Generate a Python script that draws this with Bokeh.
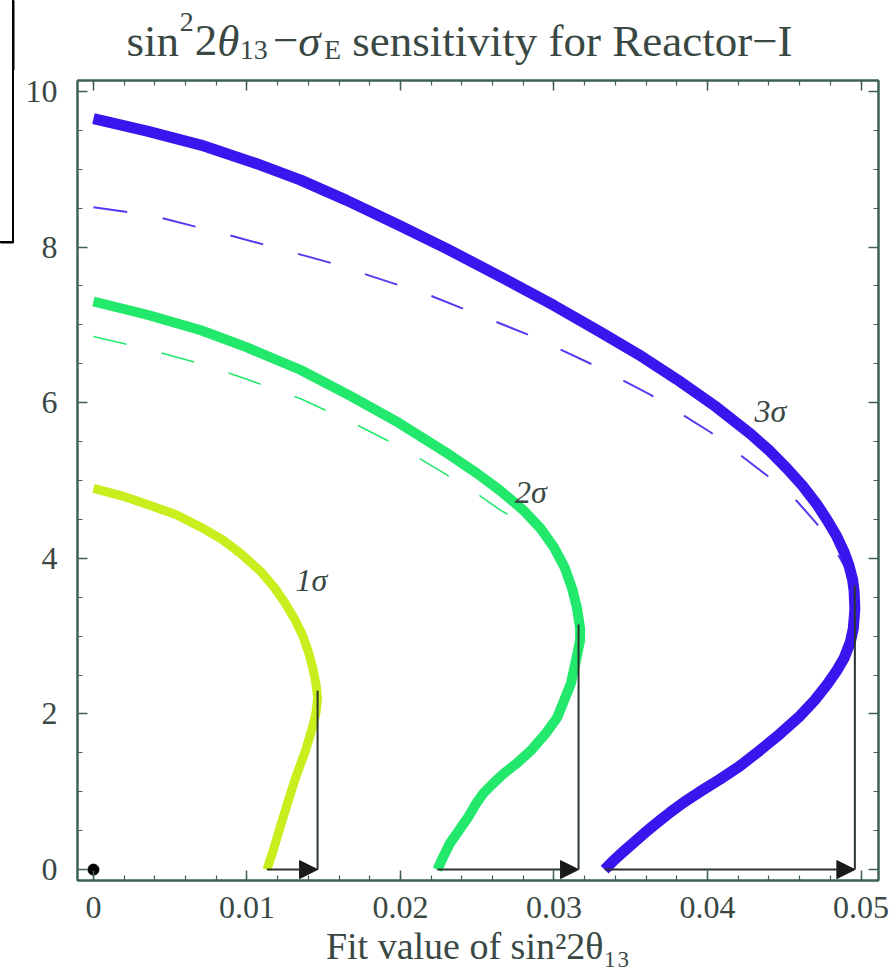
import numpy as np
from bokeh.plotting import figure
from bokeh.layouts import column, row
from bokeh.models import (Range1d, LinearAxis, Label, Arrow, NormalHead, FixedTicker)
from bokeh.core.properties import value
from bokeh.embed import file_html
from bokeh.resources import INLINE

# ---------------- data ----------------
# 1 sigma (solid, yellow-green)
x1 = [0.0, 0.0019, 0.0037, 0.0054, 0.0070, 0.0084, 0.0096, 0.0109, 0.0118, 0.0125,
      0.0131, 0.0136, 0.0140, 0.0143, 0.0145, 0.0146, 0.0145, 0.0143, 0.0138, 0.0132,
      0.0127, 0.0122, 0.0117, 0.0113]
y1 = [4.90, 4.80, 4.68, 4.56, 4.40, 4.24, 4.06, 3.83, 3.62, 3.42,
      3.22, 3.02, 2.80, 2.58, 2.38, 2.20, 2.02, 1.85, 1.52, 1.20,
      0.89, 0.57, 0.24, 0.0]

# 2 sigma (solid, green)
x2 = [0.0, 0.0035, 0.0070, 0.0100, 0.0135, 0.0167, 0.0199, 0.0232, 0.0250, 0.0265,
      0.0280, 0.0291, 0.0300, 0.0307, 0.0312, 0.0315, 0.0317, 0.0317, 0.0315, 0.0311,
      0.0302, 0.0295, 0.0285, 0.0276, 0.0267, 0.0260, 0.0254, 0.0249, 0.0244, 0.0238,
      0.0232, 0.0228, 0.0224]
y2 = [7.30, 7.13, 6.93, 6.71, 6.42, 6.09, 5.74, 5.33, 5.09, 4.87,
      4.62, 4.39, 4.14, 3.88, 3.60, 3.36, 3.10, 2.95, 2.75, 2.39,
      1.95, 1.76, 1.53, 1.37, 1.23, 1.10, 0.98, 0.84, 0.67, 0.50,
      0.33, 0.17, 0.0]

# 2 sigma (dashed)
x2d = [0.0, 0.0035, 0.0070, 0.0100, 0.0135, 0.0167, 0.0200, 0.0232, 0.0250, 0.0265,
       0.0280, 0.0289]
y2d = [6.85, 6.69, 6.50, 6.30, 6.05, 5.76, 5.43, 5.05, 4.83, 4.62,
       4.45, 4.38]

# 3 sigma (solid, blue)
x3 = [0.0, 0.0035, 0.0070, 0.0105, 0.0135, 0.0165, 0.0199, 0.0230, 0.0265, 0.0300,
      0.0330, 0.0355, 0.0380, 0.0406, 0.0428, 0.0440, 0.0452, 0.0462, 0.0471, 0.0478,
      0.0484, 0.0489, 0.0492, 0.04945, 0.04955, 0.0496, 0.0495, 0.0493, 0.0489, 0.0484,
      0.0478, 0.0470, 0.0460, 0.0447, 0.0434, 0.0421, 0.0408, 0.0395, 0.0385, 0.0376,
      0.0367, 0.0359, 0.0351, 0.0344, 0.0338, 0.0333]
y3 = [9.65, 9.49, 9.31, 9.08, 8.86, 8.60, 8.28, 7.98, 7.62, 7.25,
      6.91, 6.62, 6.30, 5.94, 5.60, 5.39, 5.15, 4.93, 4.70, 4.49,
      4.29, 4.08, 3.92, 3.73, 3.58, 3.35, 3.10, 2.92, 2.72, 2.55,
      2.38, 2.18, 1.97, 1.74, 1.53, 1.33, 1.16, 1.00, 0.87, 0.74,
      0.60, 0.47, 0.33, 0.21, 0.10, 0.0]

# 3 sigma (dashed)
x3d = [0.0, 0.0037, 0.0089, 0.0154, 0.0219, 0.0285, 0.0324, 0.0363, 0.0402, 0.0439,
       0.0458, 0.0471, 0.0483, 0.0492]
y3d = [8.51, 8.41, 8.15, 7.80, 7.38, 6.86, 6.50, 6.10, 5.62, 5.06,
       4.74, 4.45, 4.12, 3.80]

# markers of the largest fit value and arrows along sigma_E = 0
base_x = [0.0113, 0.0224, 0.0333]
vline_x = [0.0146, 0.0316, 0.0496]
vline_top = [2.30, 3.15, 3.65]

# curve labels
sig_labels = ["1σ", "2σ", "3σ"]
sig_x = [0.0142, 0.0285, 0.0441]
sig_y = [3.72, 4.85, 5.89]

# ticks
x_ticks = [0.0, 0.01, 0.02, 0.03, 0.04, 0.05]
x_tick_labels = ["0", "0.01", "0.02", "0.03", "0.04", "0.05"]
x_minor = [i * 0.002 for i in range(0, 26)]
y_ticks = [0, 2, 4, 6, 8, 10]
y_tick_labels = ["0", "2", "4", "6", "8", "10"]
y_minor = [i * 0.5 for i in range(0, 21)]

# title pieces: text, size factor, rise factor, style, gap before (em)
title_pieces = [("sin", 1.0, 0.0, "normal", 0.0),
                ("2", 0.62, 0.42, "normal", 0.02),
                ("2", 1.0, 0.0, "normal", 0.02),
                ("θ", 1.0, 0.0, "italic", 0.0),
                ("13", 0.62, -0.2, "normal", 0.0),
                ("−", 1.0, 0.0, "normal", 0.12),
                ("σ", 1.0, 0.0, "italic", 0.0),
                ("E", 0.62, -0.2, "normal", 0.02),
                ("sensitivity for Reactor−I", 1.0, 0.0, "normal", 0.25)]

# ---------------- styling ----------------
FONT = "Liberation Serif"
FRAME = "#3f5f57"
TEXT = "#3a4844"
YEL = "#c8ee1e"
GRN = "#22e86c"
BLU = "#3a16ee"

PAGE_W, PAGE_H = 896, 979
HEAD_H = 70          # header holding the title
BOX_W = 14           # left strip beside the plot
BOX_BOTTOM = 242     # page y of the occluding box's lower edge
FRAME_TOP, FRAME_BOTTOM = 80, 880


def blank_fig(w, h, xr, yr):
    f = figure(width=w, height=h, output_backend="svg",
               toolbar_location=None, title=None,
               x_range=Range1d(*xr), y_range=Range1d(*yr),
               x_axis_location=None, y_axis_location=None,
               min_border_left=0, min_border_right=0, min_border_top=0,
               min_border_bottom=0)
    f.grid.visible = False
    f.outline_line_color = None
    f.background_fill_color = None
    f.border_fill_color = None
    return f


# ---------------- header (title), page coordinates ----------------
head = blank_fig(PAGE_W, HEAD_H, (0, PAGE_W), (HEAD_H, 0))

TW = {"s": .389, "i": .278, "n": .5, " ": .25, "e": .444, "t": .278, "v": .5,
      "y": .5, "f": .333, "o": .5, "r": .333, "R": .667, "a": .444, "c": .444,
      "I": .333, "E": .611, "−": .564, "θ": .5, "σ": .55}
for d in "0123456789":
    TW[d] = .5
S = 45


def width(t, f):
    return sum(TW.get(c, .5) for c in t) * S * f


total = sum(width(t, f) + g * S for t, f, r, st, g in title_pieces)
cx = 459 - total / 2
base = 40
for t, f, r, st, g in title_pieces:
    cx += g * S
    head.text(x=[cx], y=[base - r * S], text=[t], text_font=value(FONT),
              text_font_size=value(f"{round(S * f)}px"),
              text_font_style=value(st), text_color=TEXT,
              text_align="left", text_baseline="alphabetic")
    cx += width(t, f)

head.segment(x0=[BOX_W - 1], y0=[0], x1=[BOX_W - 1], y1=[HEAD_H],
             line_color="black", line_width=2)

# ---------------- left strip (frame aligned with the plot frame) ----------------
strip = blank_fig(BOX_W, PAGE_H - HEAD_H, (0, BOX_W), (FRAME_BOTTOM, FRAME_TOP))
strip.segment(x0=[BOX_W - 1, 0], y0=[FRAME_TOP, BOX_BOTTOM],
              x1=[BOX_W - 1, BOX_W - 1], y1=[BOX_BOTTOM, BOX_BOTTOM],
              line_color="black", line_width=2)

# ---------------- main plot ----------------
X0, X1 = -0.00104, 0.05114
Y0, Y1 = -0.14, 10.14

p = figure(width=PAGE_W - BOX_W, height=PAGE_H - HEAD_H, output_backend="svg",
           toolbar_location=None, title=None,
           x_range=Range1d(X0, X1), y_range=Range1d(Y0, Y1),
           min_border_left=63, min_border_right=18,
           min_border_top=FRAME_TOP - HEAD_H,
           min_border_bottom=PAGE_H - FRAME_BOTTOM)
p.grid.visible = False
p.outline_line_color = FRAME
p.outline_line_width = 2
p.background_fill_color = "white"
p.border_fill_color = "white"

bottom_ax = p.below[0]
left_ax = p.left[0]
top_ax = LinearAxis()
right_ax = LinearAxis()
p.add_layout(top_ax, "above")
p.add_layout(right_ax, "right")

for ax in [bottom_ax, top_ax]:
    ax.ticker = FixedTicker(ticks=x_ticks, minor_ticks=x_minor)
for ax in [left_ax, right_ax]:
    ax.ticker = FixedTicker(ticks=y_ticks, minor_ticks=y_minor)

for ax in [bottom_ax, left_ax, top_ax, right_ax]:
    ax.axis_line_color = FRAME
    ax.axis_line_width = 2
    ax.major_tick_line_color = FRAME
    ax.minor_tick_line_color = FRAME
    ax.major_tick_line_width = 1.5
    ax.minor_tick_line_width = 1.2
    ax.major_tick_in = 10
    ax.major_tick_out = 0
    ax.minor_tick_in = 5
    ax.minor_tick_out = 0
    ax.major_label_text_font = FONT
    ax.major_label_text_color = TEXT
    ax.major_label_text_font_size = "32px"

for ax in [top_ax, right_ax]:
    ax.major_label_text_color = None
    ax.major_label_text_font_size = "1px"
    ax.major_label_standoff = 0
    ax.axis_label_standoff = 0

bottom_ax.major_label_overrides = dict(zip(x_ticks, x_tick_labels))
left_ax.major_label_overrides = dict(zip(y_ticks, y_tick_labels))
bottom_ax.major_label_standoff = 16
left_ax.major_label_standoff = 20

bottom_ax.axis_label = "Fit value of sin²2θ₁₃"
bottom_ax.axis_label_text_font = FONT
bottom_ax.axis_label_text_font_style = "normal"
bottom_ax.axis_label_text_font_size = "38px"
bottom_ax.axis_label_text_color = TEXT
bottom_ax.axis_label_standoff = 4

# curves
p.line(x3d, y3d, line_color=BLU, line_width=2, line_dash="34 36", line_alpha=0.85)
p.line(x2d, y2d, line_color=GRN, line_width=1.6, line_dash="34 36")
p.line(x1, y1, line_color=YEL, line_width=9, line_join="round")
p.line(x2, y2, line_color=GRN, line_width=10, line_join="round")
p.line(x3, y3, line_color=BLU, line_width=11, line_join="round")

# vertical markers
p.segment(x0=vline_x, y0=[0, 0, 0], x1=vline_x, y1=vline_top,
          line_color="#2a3430", line_width=2)

# arrows along zero
for xs, xe in zip(base_x, vline_x):
    p.add_layout(Arrow(end=NormalHead(size=18, fill_color="#1a1a1a",
                                      line_color="#1a1a1a"),
                       x_start=xs, y_start=0, x_end=xe, y_end=0,
                       line_color="#2a3430", line_width=2))

p.scatter([0.0], [0.0], size=11, color="black")

for t, lx, ly in zip(sig_labels, sig_x, sig_y):
    p.add_layout(Label(x=lx, y=ly, text=t, text_font=FONT,
                       text_font_style="italic", text_font_size="32px",
                       text_color=TEXT, text_align="center",
                       text_baseline="middle"))

# the occluding box edge also painted behind the (transparent) header and strip
box_css = {
    "background-image": "linear-gradient(#000,#000), linear-gradient(#000,#000)",
    "background-size": f"2px {BOX_BOTTOM + 1}px, {BOX_W}px 2px",
    "background-position": f"{BOX_W - 2}px 0px, 0px {BOX_BOTTOM - 1}px",
    "background-repeat": "no-repeat",
}
layout = column(head, row(strip, p, spacing=0), spacing=0, styles=box_css)
open("out.html", "w").write(file_html(layout, INLINE))
